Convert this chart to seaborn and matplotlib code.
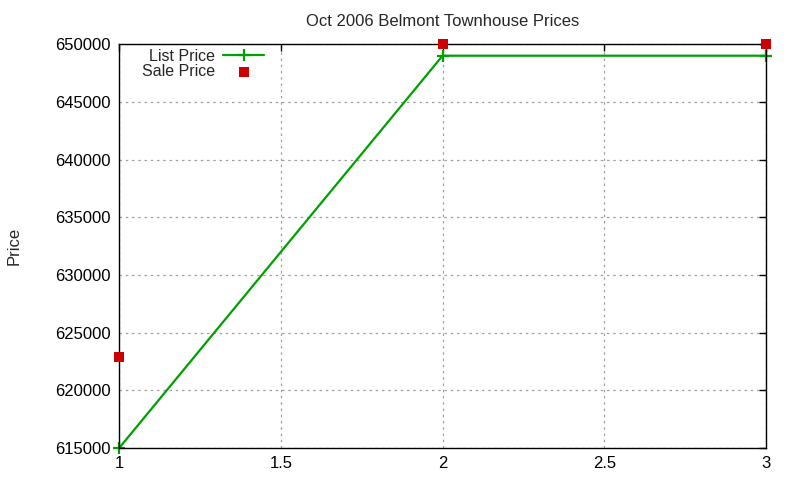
import matplotlib
matplotlib.use("Agg")
import matplotlib.pyplot as plt
import seaborn as sns
import pandas as pd

# data
units = [1, 2, 3]
list_price = [615000, 649000, 649000]
sale_price = [622900, 650000, 650000]

df = pd.DataFrame({"unit": units, "list": list_price, "sale": sale_price})

sns.set_style("white")
plt.rcParams['font.family'] = ['Liberation Sans', 'DejaVu Sans']

fig = plt.figure(figsize=(8, 4.8), dpi=100)
ax = fig.add_axes([0.149, 0.0667, 0.8085, 0.8413])

sns.lineplot(data=df, x="unit", y="list", ax=ax, color="#00a000", linewidth=1.6,
             marker="+", markersize=9, markeredgewidth=1.6,
             markeredgecolor="#00a000", dashes=False, label="List Price")
sns.scatterplot(data=df, x="unit", y="sale", ax=ax, color="#cc0000", marker="s",
                s=45, linewidth=0, label="Sale Price", clip_on=False, zorder=5)
for line in ax.lines:
    line.set_clip_on(False)
    line.set_linestyle("-")

ax.set_xlim(1, 3)
ax.set_ylim(615000, 650000)
ax.set_xticks([1, 1.5, 2, 2.5, 3])
ax.set_xticklabels(["1", "1.5", "2", "2.5", "3"])
ax.set_yticks(range(615000, 650001, 5000))
ax.set_yticklabels([str(v) for v in range(615000, 650001, 5000)])

ax.grid(True, color="#a0a0a0", linestyle=(0, (2, 3)), linewidth=0.9)
for s in ax.spines.values():
    s.set_color("black")
    s.set_linewidth(1.0)
ax.tick_params(direction="in", length=5, width=1, top=True, right=True,
               labelsize=12, colors="black", pad=6)

ax.set_xlabel("")
ax.set_ylabel("Price", fontsize=12, labelpad=24)
ax.set_title("Oct 2006 Belmont Townhouse Prices", fontsize=12, pad=13)

leg = ax.legend(loc="upper left", bbox_to_anchor=(0.025, 1.005), frameon=False,
                fontsize=11.5, markerfirst=False, handlelength=2.6,
                borderaxespad=0.0, labelspacing=0.05, handletextpad=0.5)
for t in leg.get_texts():
    t.set_ha("right")
leg._legend_box.align = "right"

fig.savefig("out.png", dpi=100)
